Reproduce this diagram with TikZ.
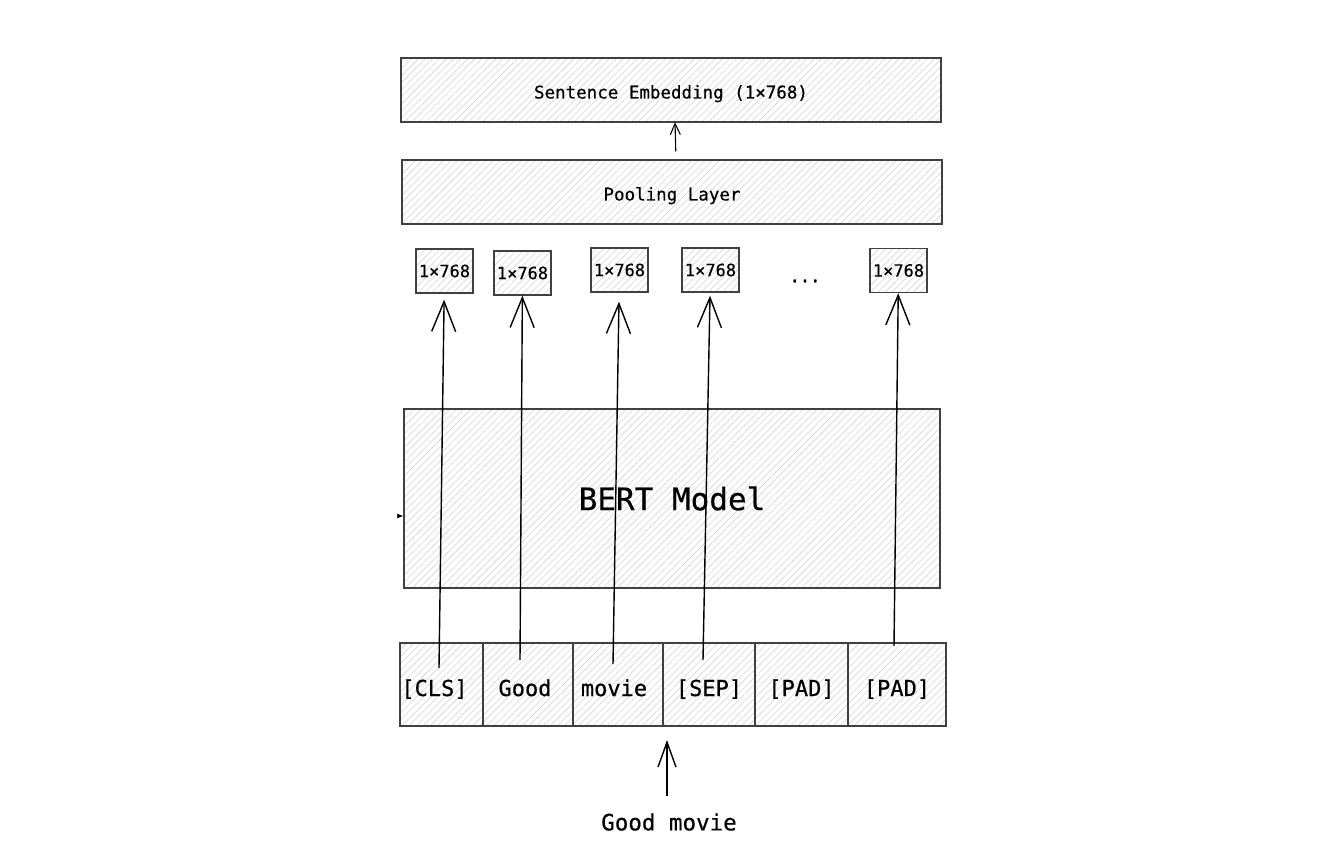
\documentclass[tikz,border=0pt]{standalone}
\usepackage{fontspec}
\setmainfont[FakeBold=0.5,UprightFeatures={FakeBold=0.5}]{DejaVu Sans Mono}
\usetikzlibrary{arrows.meta,patterns.meta}
\tikzset{
  hatched/.style={draw=black!75, line width=1.4pt, inner sep=0pt,
    pattern={Lines[angle=45,distance=5pt,line width=0.6pt]}, pattern color=black!16},
  layer/.style={hatched, minimum width=540pt, minimum height=64pt,
    text height=17pt, text depth=0pt, font=\fontsize{17.5}{20}\selectfont},
  vec/.style={hatched, minimum width=57pt, minimum height=44pt, font=\fontsize{17}{19}\selectfont},
  token/.style={hatched, minimum height=83pt, text height=23pt, text depth=0pt,
    font=\fontsize{22}{25}\selectfont},
  big/.style={-{Straight Barb[length=30pt,width=24pt,line width=1.4pt]}, line width=1.4pt},
  mid/.style={-{Straight Barb[length=25pt,width=18pt,line width=1.4pt]}, line width=1.4pt},
  small/.style={-{Straight Barb[length=11pt,width=10pt,line width=1.1pt]}, line width=1.1pt},
}
\begin{document}
\begin{tikzpicture}[x=1pt,y=-1pt]
      \useasboundingbox[fill=white] (0,0) rectangle (1342,866);
      \draw
        (671,90) node[layer] (emb){Sentence Embedding (1×768)}
        (672,192) node[layer] (pool){Pooling Layer}
        (444.5,271) node[vec] (e1){1×768}
        (522.5,273) node[vec] (e2){1×768}
        (619.5,270) node[vec] (e3){1×768}
        (710.5,270) node[vec] (e4){1×768}
        (805,281) node[font=\fontsize{17}{20}\selectfont] (dots){...}
        (898.5,270.5) node[vec] (e5){1×768}
        (672,498.5) node[hatched, minimum width=536pt, minimum height=179pt,
          font=\fontsize{31}{36}\selectfont] (bert){BERT Model}
        (441.5,684.5) node[token, minimum width=83pt] (t1){[CLS]\kern14pt}
        (528,684.5) node[token, minimum width=90pt] (t2){Good\kern6pt}
        (618,684.5) node[token, minimum width=90pt] (t3){movie\kern8pt}
        (709,684.5) node[token, minimum width=92pt] (t4){[SEP]}
        (801.5,684.5) node[token, minimum width=93pt] (t5){[PAD]}
        (897,684.5) node[token, minimum width=98pt] (t6){[PAD]}
        (669,822) node[inner sep=0pt, font=\fontsize{22.5}{25}\selectfont] (input){Good movie};
      \coordinate (c1) at (439,668);
      \coordinate (c2) at (520,660);
      \coordinate (c3) at (613,664);
      \coordinate (c4) at (703,660);
      \coordinate (c5) at (894,646);
      \coordinate (in) at (667,740);
      \coordinate (stray) at (397,516);
      \begin{scope}[big]
        \draw[shorten >=6pt] (c1) to (e1);
        \draw (c2) to (e2);
        \draw[shorten >=9pt] (c3) to (e3);
        \draw[shorten >=3pt] (c4) to (e4);
        \draw (c5) to (e5);
      \end{scope}
      \draw[mid, shorten <=17pt] (input.north -| in) to (in);
      \draw[small, shorten <=8pt] ([xshift=4pt]pool.north) to ([xshift=4pt]emb.south);
      \draw[-{Latex[length=6pt,width=5pt]}, line width=0.8pt] (stray) to (stray -| bert.west);
    \end{tikzpicture}
\end{document}
